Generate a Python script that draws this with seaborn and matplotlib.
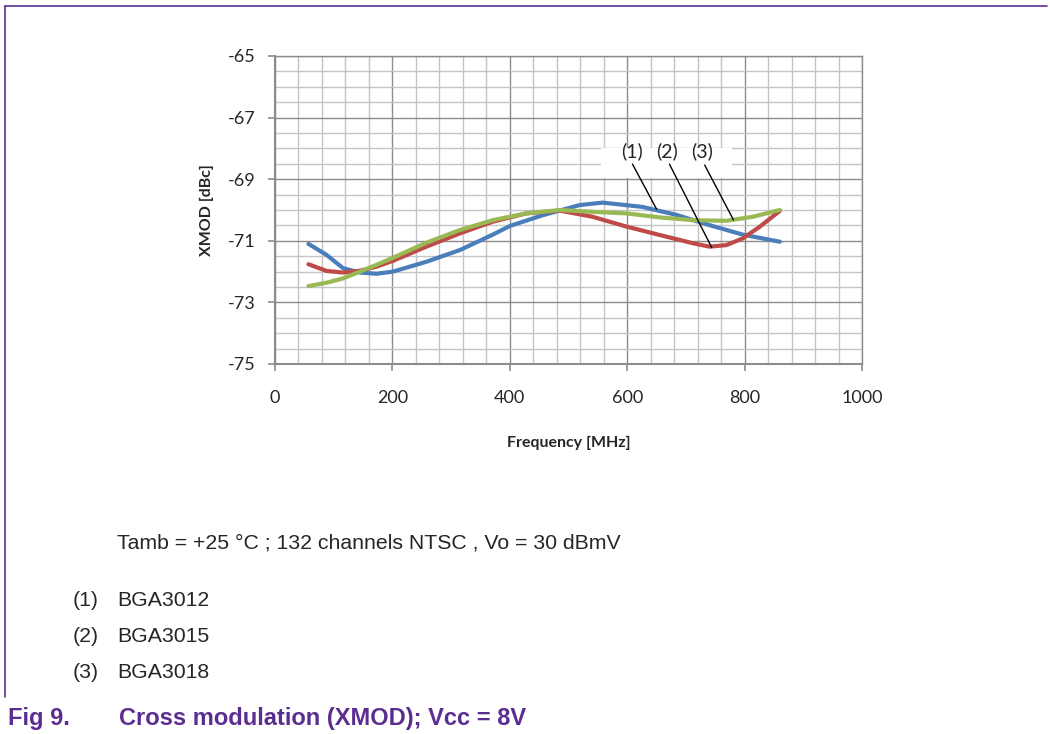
import numpy as np
import pandas as pd
import seaborn as sns
import matplotlib.pyplot as plt
from matplotlib.ticker import MultipleLocator
from matplotlib.patches import Rectangle

# data (frequency MHz, XMOD dBc)
freq_1 = [57, 88, 116, 145, 173, 201, 258, 315, 371, 400, 456, 519, 558, 626, 684, 740, 797, 860]
xmod_1 = [-71.10, -71.46, -71.89, -72.03, -72.07, -72.00, -71.68, -71.30, -70.80, -70.52,
          -70.17, -69.84, -69.76, -69.90, -70.16, -70.49, -70.80, -71.03]

freq_2 = [57, 88, 116, 145, 173, 201, 258, 315, 371, 428, 485, 541, 599, 655, 712, 740, 769, 797, 826, 860]
xmod_2 = [-71.76, -71.98, -72.03, -71.97, -71.84, -71.65, -71.19, -70.76, -70.38, -70.11,
          -70.02, -70.22, -70.54, -70.81, -71.08, -71.19, -71.14, -70.92, -70.54, -70.03]

freq_3 = [57, 88, 116, 145, 173, 201, 258, 315, 371, 428, 485, 541, 599, 655, 712, 769, 814, 860]
xmod_3 = [-72.47, -72.36, -72.22, -72.00, -71.78, -71.55, -71.06, -70.65, -70.33, -70.11,
          -70.00, -70.06, -70.11, -70.24, -70.33, -70.35, -70.22, -70.00]

series_names = ['(1)', '(2)', '(3)']
parts = ['BGA3012', 'BGA3015', 'BGA3018']
colors = ['#4a7ebb', '#be4b48', '#98b954']
y_ticks = [-75, -73, -71, -69, -67, -65]

df = pd.concat([
    pd.DataFrame({'freq': f, 'xmod': v, 'series': s})
    for f, v, s in zip([freq_1, freq_2, freq_3], [xmod_1, xmod_2, xmod_3], series_names)
])

sns.set_style('white')
plt.rcParams['font.family'] = ['Lato', 'DejaVu Sans']
plt.rcParams['axes.unicode_minus'] = False

W, H = 1050, 734
fig = plt.figure(figsize=(W / 100, H / 100), dpi=100)
ax = fig.add_axes([275 / W, 1 - 364 / H, (862 - 275) / W, (364 - 56) / H])

sns.lineplot(data=df, x='freq', y='xmod', hue='series', palette=colors,
             estimator=None, sort=False, linewidth=3, legend=False, ax=ax, zorder=3)

ax.set_xlim(0, 1000)
ax.set_ylim(-75, -65)
ax.xaxis.set_major_locator(MultipleLocator(200))
ax.xaxis.set_minor_locator(MultipleLocator(40))
ax.set_yticks(y_ticks)
ax.yaxis.set_minor_locator(MultipleLocator(0.5))
ax.grid(which='minor', color='#c4c4c4', linewidth=1.0)
ax.grid(which='major', color='#8c8c8c', linewidth=1.0)
ax.set_axisbelow(True)
for sp in ax.spines.values():
    sp.set_color('#8c8c8c')
    sp.set_linewidth(1.0)
ax.spines['left'].set_linewidth(1.5)
ax.spines['bottom'].set_linewidth(1.5)
ax.tick_params(which='major', direction='out', length=5, width=1.2, color='#8c8c8c',
               labelsize=13, left=True, bottom=True)
ax.tick_params(axis='y', pad=9)
ax.tick_params(axis='x', pad=14)
ax.tick_params(which='minor', length=0)

ax.set_xlabel('Frequency [MHz]', fontsize=11.5, fontweight='bold', labelpad=21)
ax.set_ylabel('XMOD [dBc]', fontsize=11.5, fontweight='bold', labelpad=10)

# callout box with leader lines
ax.add_patch(Rectangle((556, -68.95), 222, 0.95, facecolor='white', edgecolor='none', zorder=2.5))
label_x = [608, 668, 727]
label_tip = [(650, -69.97), (744, -71.22), (781, -70.32)]
label_root = [(609, -68.51), (672, -68.51), (732, -68.54)]
for name, lx, root, tip in zip(series_names, label_x, label_root, label_tip):
    ax.text(lx, -68.08, name, ha='center', va='center', fontsize=14, zorder=4)
    ax.plot([root[0], tip[0]], [root[1], tip[1]], color='black', linewidth=1, zorder=4)

# page frame and captions
purple = '#5c2d91'
fig.add_artist(plt.Line2D([5 / W, 1047 / W], [1 - 6 / H, 1 - 6 / H], color=purple, linewidth=1.2))
fig.add_artist(plt.Line2D([5 / W, 5 / W], [1 - 6 / H, 1 - 697 / H], color=purple, linewidth=1.2))

cap_font = ['Liberation Sans', 'DejaVu Sans']
fig.text(117 / W, 1 - 543 / H, 'Tamb = +25 °C ; 132 channels NTSC , Vo = 30 dBmV',
         fontsize=15.3, family=cap_font, va='center')
for i, (name, part) in enumerate(zip(series_names, parts)):
    y = 1 - (600 + 36 * i) / H
    fig.text(73 / W, y, name, fontsize=15.3, family=cap_font, va='center')
    fig.text(117 / W, y, part, fontsize=15.3, family=cap_font, va='center')

fig.text(8 / W, 1 - 719 / H, 'Fig 9.', fontsize=17, fontweight='bold', color=purple,
         family=cap_font, va='center')
fig.text(119 / W, 1 - 719 / H, 'Cross modulation (XMOD); Vcc = 8V', fontsize=17,
         fontweight='bold', color=purple, family=cap_font, va='center')

fig.savefig('out.png', dpi=100)
